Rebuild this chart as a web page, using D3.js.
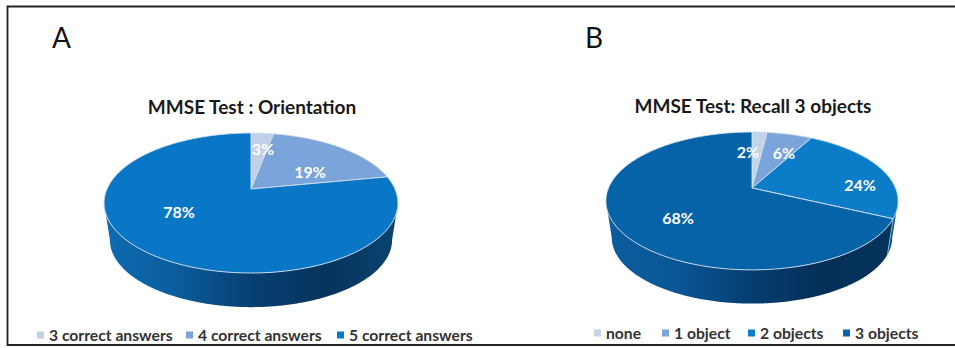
<!DOCTYPE html>
<html>
<head>
<meta charset="utf-8">
<script src="https://cdn.jsdelivr.net/npm/d3@7/dist/d3.min.js"></script>
<style>
  html, body { margin: 0; padding: 0; background: #fff; }
  svg { display: block; }
  text { font-family: Lato, "Open Sans", sans-serif; }
</style>
</head>
<body>
<svg id="chart" width="955" height="348"></svg>
<script>
// Response shares for the two MMSE sub-tests
const orientationCategories = ["3 correct answers", "4 correct answers", "5 correct answers"];
const orientationValues = [3, 19, 78];
const recallCategories = ["none", "1 object", "2 objects", "3 objects"];
const recallValues = [2, 6, 24, 68];

const orientationColors = ["#bfd0e8", "#7ba4da", "#0a77c6"];
const recallColors = ["#c3d3e9", "#7ba4da", "#0a7cc8", "#0763a8"];

const svg = d3.select("#chart");
const defs = svg.append("defs");

// Outer frame: open on the right-hand side
svg.append("path")
  .attr("d", "M955,6.5H7.5V345H955")
  .attr("fill", "none").attr("stroke", "#222").attr("stroke-width", 1.8);

function tiltedPie(cfg) {
  const g = svg.append("g");
  const color = d3.scaleOrdinal(cfg.categories, cfg.colors);
  const pie = d3.pie().sort(null).value(d => d.value);
  const arcs = pie(cfg.categories.map((c, i) => ({ name: c, value: cfg.values[i] })));

  // Perspective projection of the unit disc; angle 0 at the top, clockwise
  const project = (theta, r = 1, scale = 1, drop = 0) => {
    const u = r * Math.sin(theta), v = -r * Math.cos(theta);
    const w = 1 - cfg.k * v;
    return [cfg.cx + scale * cfg.a * u / w, cfg.cy + drop + scale * cfg.b * v / w];
  };
  const sweep = (a0, a1) => d3.range(0, 241).map(i => a0 + (a1 - a0) * i / 240);
  const line = d3.line();

  // The wall only shows between the two widest points of the rim
  const frontStart = Math.acos(-cfg.k);
  const frontEnd = 2 * Math.PI - frontStart;

  // Side wall, one band per slice
  arcs.forEach((d, i) => {
    const a0 = Math.max(d.startAngle, frontStart);
    const a1 = Math.min(d.endAngle, frontEnd);
    if (a1 <= a0) return;
    const id = cfg.id + "-wall-" + i;
    const grad = defs.append("linearGradient").attr("id", id)
      .attr("gradientUnits", "userSpaceOnUse")
      .attr("x1", cfg.cx - cfg.a * 1.02).attr("x2", cfg.cx + cfg.a * 1.02)
      .attr("y1", 0).attr("y2", 0);
    cfg.wallStops[i].forEach(s => grad.append("stop").attr("offset", s[0]).attr("stop-color", s[1]));
    const top = sweep(a0, a1).map(t => project(t));
    const bottom = sweep(a1, a0).map(t => project(t, 1, cfg.wallScale, cfg.depth));
    g.append("path").attr("d", line(top.concat(bottom)) + "Z")
      .attr("fill", `url(#${id})`);
  });

  // Seams on the wall where two front slices meet
  arcs.forEach(d => {
    const t = d.endAngle;
    if (t > frontStart && t < frontEnd) {
      g.append("path").attr("d", line([project(t), project(t, 1, cfg.wallScale, cfg.depth)]))
        .attr("stroke", "#9db8d0").attr("stroke-width", 0.8).attr("fill", "none");
    }
  });

  // Top face
  arcs.forEach(d => {
    const pts = [project(0, 0)].concat(sweep(d.startAngle, d.endAngle).map(t => project(t)));
    g.append("path").attr("d", line(pts) + "Z")
      .attr("fill", color(d.data.name))
      .attr("stroke", "#d5e2ee").attr("stroke-width", 0.9).attr("stroke-linejoin", "round");
  });

  // Value labels
  arcs.forEach((d, i) => {
    g.append("text")
      .attr("x", cfg.cx + cfg.labelOffsets[i][0]).attr("y", cfg.cy + cfg.labelOffsets[i][1])
      .attr("text-anchor", "middle").attr("dominant-baseline", "central")
      .attr("font-size", 16).attr("font-weight", 700).attr("fill", "#fff")
      .text(d.value + "%");
  });

  // Title
  g.append("text").attr("x", cfg.cx + cfg.titleDx).attr("y", cfg.titleY)
    .attr("text-anchor", "middle").attr("dominant-baseline", "central")
    .attr("font-size", 19).attr("font-weight", 700).attr("fill", "#1a1a1a")
    .text(cfg.title);

  // Panel letter
  g.append("text").attr("x", cfg.letterX).attr("y", 47.5)
    .attr("font-size", 28).attr("fill", "#111").text(cfg.letter);

  // Legend
  cfg.categories.forEach((c, i) => {
    g.append("rect").attr("x", cfg.legendX[i]).attr("y", cfg.legendY - 3.5)
      .attr("width", 7).attr("height", 7).attr("fill", color(c));
    g.append("text").attr("x", cfg.legendX[i] + 12).attr("y", cfg.legendY)
      .attr("dominant-baseline", "central")
      .attr("font-size", 15.7).attr("font-weight", 700).attr("fill", "#333")
      .text(c);
  });
}

const wallOrientation = ["#0d6cb2", "#0b5c9c", "#073f72", "#06345e", "#0a4470"];
const wallStops = cols => cols.map((c, i) => [i / (cols.length - 1), c]);

tiltedPie({
  id: "orientation", title: "MMSE Test : Orientation", letter: "A",
  categories: orientationCategories, values: orientationValues, colors: orientationColors,
  cx: 251, cy: 189, a: 144, b: 67.2, k: 0.2, depth: 37.5, wallScale: 0.96,
  titleDx: 1, titleY: 106, letterX: 52,
  labelOffsets: [[12, -41], [59, -18], [-72, 22]],
  legendX: [37, 186, 337], legendY: 335,
  wallStops: [wallStops(wallOrientation), wallStops(wallOrientation), wallStops(wallOrientation)]
});

const wallDeep = ["#0b5d9f", "#0a5695", "#063d70", "#042f57", "#05345c"];
tiltedPie({
  id: "recall", title: "MMSE Test: Recall 3 objects", letter: "B",
  categories: recallCategories, values: recallValues, colors: recallColors,
  cx: 752, cy: 188, a: 143.5, b: 66.5, k: 0.188, depth: 37, wallScale: 0.96,
  titleDx: 1, titleY: 105, letterX: 585,
  labelOffsets: [[-4, -37], [32, -36], [108, -4], [-74, 29]],
  legendX: [594, 662, 748, 843], legendY: 333,
  wallStops: [wallStops(wallDeep), wallStops(wallDeep), wallStops(["#0a5ea0", "#0a5ea0", "#07497f", "#07497f", "#0a5a96"]), wallStops(wallDeep)]
});
</script>
</body>
</html>
